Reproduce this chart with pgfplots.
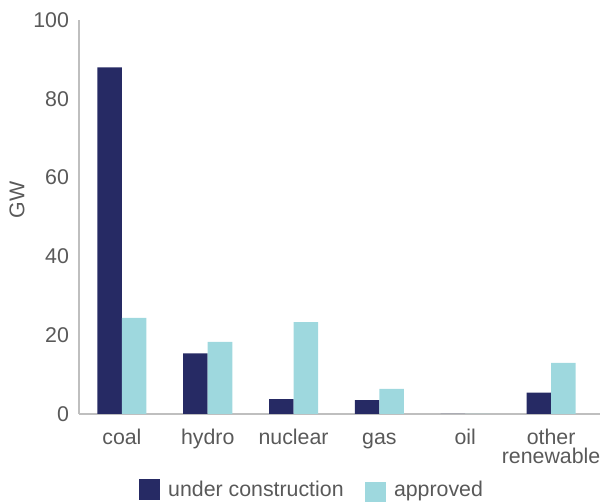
\documentclass[border=0pt]{standalone}
\usepackage{pgfplots}
\pgfplotsset{compat=1.18}
\usepackage{fontspec}
\setmainfont{Liberation Sans}
\definecolor{darkbar}{RGB}{38,42,100}
\definecolor{lightbar}{RGB}{158,216,222}
\definecolor{txtgray}{RGB}{89,89,89}
\definecolor{axgray}{RGB}{191,191,191}
\begin{document}
\begin{tikzpicture}
\begin{axis}[
  name=ax,
  scale only axis,
  width=390.75pt, height=295.5pt,
  ybar=0pt, bar width=18.4pt,
  xmin=-0.5, xmax=5.57,
  ymin=0, ymax=100,
  ytick={0,20,40,60,80,100},
  xtick={0,1,2,3,4,5},
  xticklabels={\strut coal,\strut hydro,\strut nuclear,\strut gas,\strut oil,{\strut other\\[-3.5pt]renewable}},
  axis x line=bottom, axis y line=left,
  axis line style={draw=axgray, line width=1.1pt, -},
  major tick length=0pt,
  /pgf/number format/assume math mode=true,
  tick label style={font=\fontsize{16}{18}\selectfont, text=txtgray},
  x tick label style={align=center, yshift=-6.5pt},
  yticklabel style={xshift=-4pt},
  ylabel={GW},
  ylabel style={font=\fontsize{16}{18}\selectfont, text=txtgray, at={(axis description cs:-0.1037,0.543)}, anchor=south, inner sep=0pt},
  legend style={at={(0.448,-0.155)}, anchor=north, draw=none, legend columns=2,
    font=\fontsize{16}{18}\selectfont, text=txtgray,
    /tikz/every even column/.append style={column sep=14pt},
    /tikz/every odd column/.append style={column sep=4pt}},
]
\addplot[fill=darkbar, draw=none, legend image code/.code={\fill[darkbar] (0pt,-7.875pt) rectangle (15.75pt,7.875pt);}] coordinates {(0,88) (1,15.4) (2,3.8) (3,3.5) (4,0) (5,5.4)};
\addplot[fill=lightbar, draw=none, legend image code/.code={\fill[lightbar] (0pt,-10.5pt) rectangle (15.75pt,5.25pt);}] coordinates {(0,24.4) (1,18.3) (2,23.3) (3,6.4) (4,0) (5,13.0)};
\legend{under construction, approved}
\end{axis}
\pgfresetboundingbox
\path (ax.south west) ++(-59.25pt,-66pt) rectangle ++(452.25pt,376.5pt);
\end{tikzpicture}
\end{document}
